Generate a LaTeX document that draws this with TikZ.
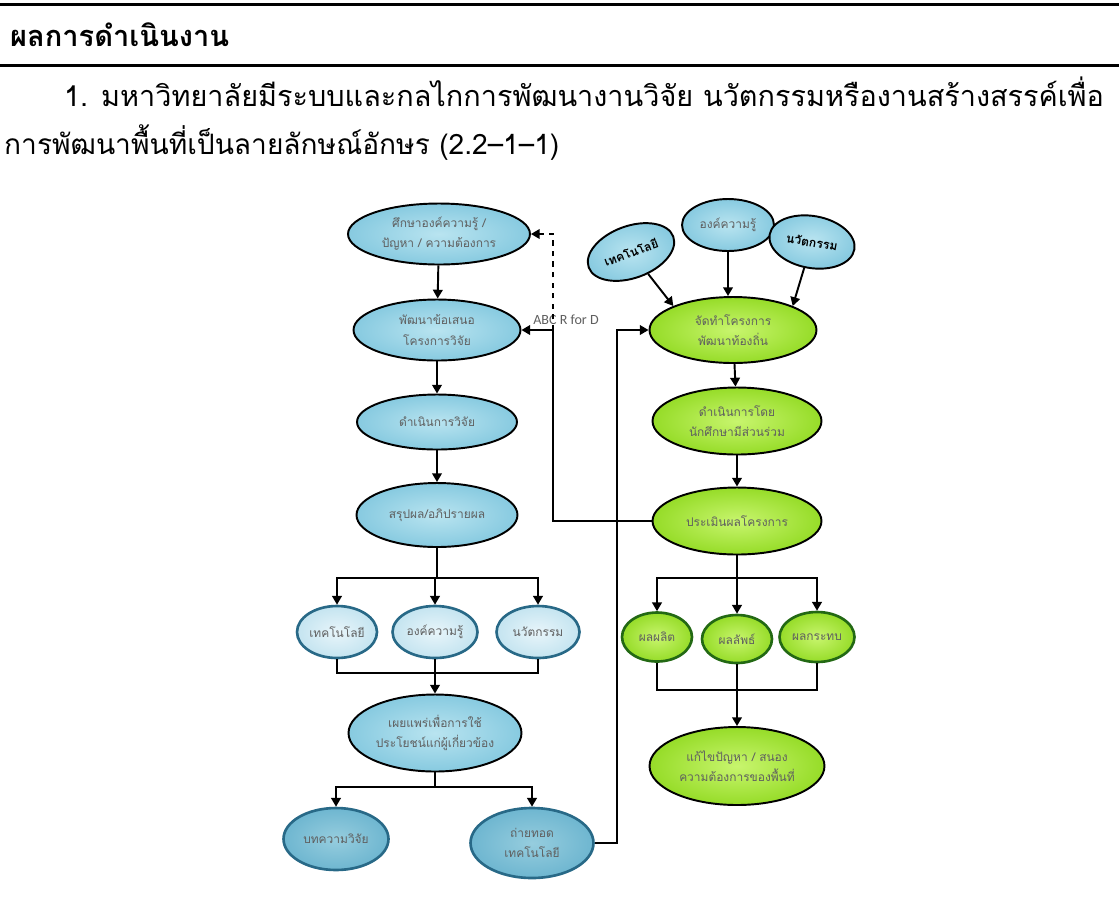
\documentclass[tikz,border=0pt]{standalone}
\usepackage{fontspec}
\setmainfont[Script=Thai]{Loma}
\newfontfamily\latinfont{Carlito}
\usetikzlibrary{shapes.geometric,arrows.meta,positioning}

\definecolor{blueIn}{RGB}{185,228,240}
\definecolor{blueOut}{RGB}{135,202,224}
\definecolor{paleIn}{RGB}{232,245,250}
\definecolor{paleOut}{RGB}{196,228,240}
\definecolor{deepIn}{RGB}{150,205,222}
\definecolor{deepOut}{RGB}{110,182,208}
\definecolor{tealRim}{RGB}{40,105,135}
\definecolor{greenIn}{RGB}{200,245,110}
\definecolor{greenOut}{RGB}{150,220,40}
\definecolor{greenRim}{RGB}{35,105,20}
\definecolor{labelGray}{RGB}{95,95,95}

\tikzset{
  every picture/.style={x=0.02cm, y=-0.02cm},
  bub/.style={ellipse, draw=black, line width=1.1pt, inner sep=0pt, align=center,
    text=labelGray, font=\fontsize{6.8}{11.5}\selectfont},
  bluebub/.style={bub, inner color=blueIn, outer color=blueOut},
  palebub/.style={bub, draw=tealRim, line width=1.5pt, inner color=paleIn, outer color=paleOut},
  deepbub/.style={bub, draw=tealRim, line width=1.5pt, inner color=deepIn, outer color=deepOut},
  greenbub/.style={bub, inner color=greenIn, outer color=greenOut},
  smallgreen/.style={bub, draw=greenRim, line width=1.5pt, inner color=greenIn, outer color=greenOut},
  boldbub/.style={bluebub, text=black, font=\fontsize{7}{11.5}\selectfont\bfseries},
  arr/.style={-{Triangle[length=5pt,width=5.5pt]}, line width=1.1pt},
  link/.style={line width=1.1pt},
  rule/.style={line width=1.7pt}
}

\begin{document}
\begin{tikzpicture}
    \useasboundingbox (0,0) rectangle (1119,921);

    % header and text
    \draw[rule] (0,4) -- (1119,4);
    \node[anchor=west, font=\fontsize{16.5}{20}\selectfont\bfseries] (head) at (4,35) {ผลการดำเนินงาน};
    \draw[rule] (0,65) -- (1119,65);
    \node[anchor=west, font=\fontsize{16.4}{20}\selectfont] (line1) at (58,92)
        {1. มหาวิทยาลัยมีระบบและกลไกการพัฒนางานวิจัย นวัตกรรมหรืองานสร้างสรรค์เพื่อ};
    \node[anchor=west, font=\fontsize{16}{20}\selectfont] (line2) at (-2,143)
        {การพัฒนาพื้นที่เป็นลายลักษณ์อักษร (2.2–1–1)};

    % research column
    \node[bluebub, minimum width=3.64cm, minimum height=1.22cm] (study) at (439,234)
        {ศึกษาองค์ความรู้ /\\ปัญหา / ความต้องการ};
    \node[bluebub, minimum width=3.34cm, minimum height=1.22cm] (propose) at (437,330)
        {พัฒนาข้อเสนอ\\โครงการวิจัย};
    \node[bluebub, minimum width=3.2cm, minimum height=1.1cm] (conduct) at (437,422)
        {ดำเนินการวิจัย};
    \node[bluebub, minimum width=3.22cm, minimum height=1.28cm] (discuss) at (437,515)
        {สรุปผล/อภิปรายผล};

    \node[palebub, minimum width=1.6cm, minimum height=1.04cm] (techA) at (337,632) {เทคโนโลยี};
    \node[palebub, minimum width=1.7cm, minimum height=1.04cm] (knowA) at (435,632) {องค์ความรู้};
    \node[palebub, minimum width=1.66cm, minimum height=1.04cm] (innoA) at (538,632) {นวัตกรรม};

    \node[bluebub, minimum width=3.46cm, minimum height=1.54cm] (spread) at (435,733)
        {เผยแพร่เพื่อการใช้\\ประโยชน์แก่ผู้เกี่ยวข้อง};
    \node[deepbub, minimum width=2.1cm, minimum height=1.24cm] (paper) at (336,839) {บทความวิจัย};
    \node[deepbub, minimum width=2.46cm, minimum height=1.4cm] (transfer) at (532,843)
        {ถ่ายทอด\\เทคโนโลยี};

    % community column
    \node[boldbub, minimum width=1.8cm, minimum height=1.04cm, rotate=20] (techB) at (631,252) {เทคโนโลยี};
    \node[bluebub, minimum width=1.84cm, minimum height=1.04cm] (knowB) at (728,225) {องค์ความรู้};
    \node[boldbub, minimum width=1.72cm, minimum height=1.04cm, rotate=-10] (innoB) at (812,242) {นวัตกรรม};

    \node[greenbub, minimum width=3.34cm, minimum height=1.32cm] (plan) at (733,330)
        {จัดทำโครงการ\\พัฒนาท้องถิ่น};
    \node[greenbub, minimum width=3.38cm, minimum height=1.34cm] (act) at (737,421)
        {ดำเนินการโดย\\นักศึกษามีส่วนร่วม};
    \node[greenbub, minimum width=3.38cm, minimum height=1.34cm] (assess) at (737,521)
        {ประเมินผลโครงการ};

    \node[smallgreen, minimum width=1.4cm, minimum height=0.98cm] (output) at (657,637) {ผลผลิต};
    \node[smallgreen, minimum width=1.4cm, minimum height=0.96cm] (outcome) at (737,639) {ผลลัพธ์};
    \node[smallgreen, minimum width=1.5cm, minimum height=1.0cm] (impact) at (817,637) {ผลกระทบ};

    \node[greenbub, minimum width=3.5cm, minimum height=1.56cm] (solve) at (737,766)
        {แก้ไขปัญหา / สนอง\\ความต้องการของพื้นที่};

    % connectors, left
    \draw[arr] (study) -- (propose);
    \draw[arr] (propose) -- (conduct);
    \draw[arr] (conduct) -- (discuss);
    \coordinate (splitA) at (437,578);
    \draw[link] (discuss) -- (splitA);
    \draw[arr] (splitA) -| (techA);
    \draw[arr] (splitA) -| (knowA);
    \draw[arr] (splitA) -| (innoA);
    \coordinate (joinA) at (435,673);
    \draw[link] (techA) |- (joinA) -| (innoA);
    \draw[arr] (knowA) -- (spread);
    \coordinate (splitB) at (435,787);
    \draw[link] (spread) -- (splitB);
    \draw[arr] (splitB) -| (paper);
    \draw[arr] (splitB) -| (transfer);
    \draw[arr] (transfer.east) -- ++(22,0) |- (plan.west);

    % connectors, right
    \draw[arr] (techB) -- (plan.north west);
    \draw[arr] (knowB) -- (knowB |- plan.north);
    \draw[arr] (innoB) -- (plan.north east);
    \draw[arr] (plan) -- (act);
    \draw[arr] (act) -- (assess);
    \coordinate (splitC) at (737,578);
    \draw[link] (assess) -- (splitC);
    \draw[arr] (splitC) -| (output);
    \draw[arr] (splitC) -| (outcome);
    \draw[arr] (splitC) -| (impact);
    \coordinate (joinC) at (737,690);
    \draw[link] (output) |- (joinC) -| (impact);
    \draw[arr] (outcome) -- (solve);

    % feedback
    \node[font=\latinfont\fontsize{8}{10}\selectfont, text=labelGray] (loop) at (566,320) {ABC R for D};
    \coordinate (back) at (553,330);
    \draw[arr] (assess.west) -| (back) -- (propose.east);
    \draw[arr, dashed] (back) |- (study.east);
\end{tikzpicture}
\end{document}
